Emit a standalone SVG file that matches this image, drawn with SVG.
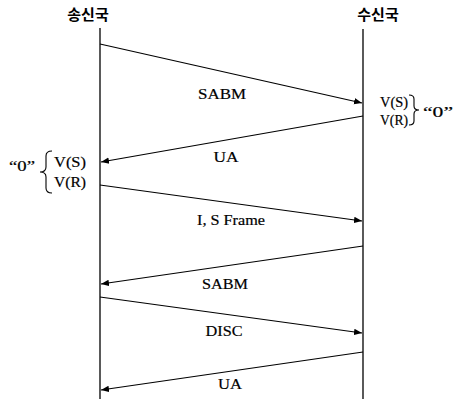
<svg xmlns="http://www.w3.org/2000/svg" width="460" height="399" viewBox="0 0 460 399">
<defs>
<marker id="ah" viewBox="0 0 10 10" refX="10" refY="5" markerWidth="8" markerHeight="8" markerUnits="userSpaceOnUse" orient="auto">
<path d="M0,1 L10,5 L0,9 Z" fill="#000"/>
</marker>
<style>
.lbl{font-family:"Times New Roman","Liberation Serif","DejaVu Serif",serif;font-size:15px;fill:#000;stroke:#000;stroke-width:0.2;text-anchor:middle}
.hdr{font-family:"Noto Sans CJK KR","Noto Sans",sans-serif;font-size:15px;font-weight:bold;fill:#000;text-anchor:middle}
.ln{stroke:#000;stroke-width:1.3;fill:none}
.msg{stroke:#000;stroke-width:1.2;fill:none;marker-end:url(#ah)}
.br{stroke:#000;stroke-width:1.1;fill:none}
</style>
</defs>
<rect width="460" height="399" fill="#fff"/>
<g id="sender">
<text class="hdr" x="88" y="20">송신국</text>
<line class="ln" x1="100" y1="28" x2="100" y2="399"/>
</g>
<g id="receiver">
<text class="hdr" x="378" y="20">수신국</text>
<line class="ln" x1="363" y1="29" x2="363" y2="399"/>
</g>
<g id="connectors">
<line class="msg" x1="100" y1="44" x2="362" y2="103"/>
<line class="msg" x1="363" y1="116" x2="101" y2="162"/>
<line class="msg" x1="100" y1="185" x2="362" y2="221"/>
<line class="msg" x1="363" y1="246" x2="101" y2="284"/>
<line class="msg" x1="100" y1="297" x2="362" y2="333"/>
<line class="msg" x1="363" y1="352" x2="101" y2="390"/>
</g>
<g id="labels">
<text class="lbl" x="222" y="99" textLength="48" lengthAdjust="spacingAndGlyphs">SABM</text>
<text class="lbl" x="226" y="162" textLength="25" lengthAdjust="spacingAndGlyphs">UA</text>
<text class="lbl" x="231" y="225" textLength="68" lengthAdjust="spacingAndGlyphs">I, S Frame</text>
<text class="lbl" x="225" y="289" textLength="46" lengthAdjust="spacingAndGlyphs">SABM</text>
<text class="lbl" x="224" y="336" textLength="37" lengthAdjust="spacingAndGlyphs">DISC</text>
<text class="lbl" x="230" y="389" textLength="24" lengthAdjust="spacingAndGlyphs">UA</text>
</g>
<g id="recv-state">
<text class="lbl" x="394" y="107" textLength="28" lengthAdjust="spacingAndGlyphs">V(S)</text>
<text class="lbl" x="394" y="125" textLength="28" lengthAdjust="spacingAndGlyphs">V(R)</text>
<path class="br" d="M409,95 Q414,95 414,99 L414,106 Q414,110 419,110 Q414,110 414,114 L414,121 Q414,125 409,125"/>
<text class="lbl" x="438" y="117" textLength="30" lengthAdjust="spacingAndGlyphs">“0”</text>
</g>
<g id="send-state">
<text class="lbl" x="22" y="171" textLength="26" lengthAdjust="spacingAndGlyphs">“0”</text>
<path class="br" d="M52,151 Q46,151 46,156 L46,167 Q46,172 40,172 Q46,172 46,177 L46,188 Q46,193 52,193"/>
<text class="lbl" x="70" y="167" textLength="32" lengthAdjust="spacingAndGlyphs">V(S)</text>
<text class="lbl" x="70" y="187" textLength="32" lengthAdjust="spacingAndGlyphs">V(R)</text>
</g>
</svg>
